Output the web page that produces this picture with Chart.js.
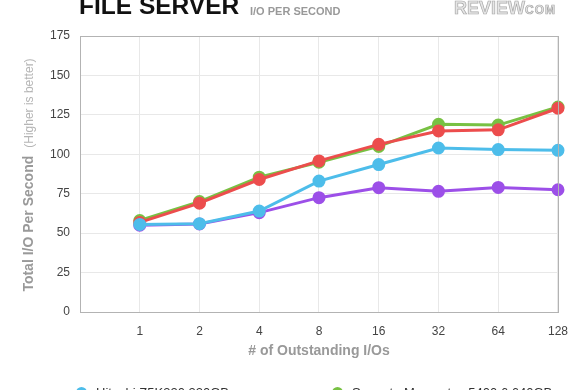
<!DOCTYPE html>
<html>
<head>
<meta charset="utf-8">
<script src="https://cdn.jsdelivr.net/npm/chart.js@4.4.0/dist/chart.umd.min.js"></script>
<style>
  body { margin: 0; width: 580px; height: 390px; overflow: hidden; background: #fff; position: relative;
         font-family: "Liberation Sans", Arial, Helvetica, sans-serif; }
  #chart { position: absolute; left: 0; top: 0; }
  .title { position: absolute; left: 79px; top: -8px; font-size: 24.5px; font-weight: bold; color: #111; line-height: 28px; }
  .subtitle { position: absolute; left: 250px; top: 5px; font-size: 11px; font-weight: bold; color: #999; line-height: 12px; }
  .logo { position: absolute; left: 454px; top: 0px; font-weight: bold; color: #e6e6e6;
          -webkit-text-stroke: 0.7px #a8a8a8; line-height: 17px; white-space: nowrap; }
  .logo .big { font-size: 18px; }
  .logo .small { font-size: 12px; letter-spacing: 1px; }
  .legend { position: absolute; left: 76px; top: 385px; width: 500px; display: grid;
            grid-template-columns: 256px 244px; row-gap: 8px; font-size: 13px; color: #333; }
  .legend span.dot { display: inline-block; width: 11px; height: 11px; border-radius: 50%;
                     vertical-align: -1px; margin-right: 9px; }
</style>
</head>
<body>
<canvas id="chart" width="580" height="390"></canvas>
<div class="title">FILE SERVER</div>
<div class="subtitle">I/O PER SECOND</div>
<div class="logo"><span class="big">REVIEW</span><span class="small">COM</span></div>
<div class="legend" id="legend"></div>

<script>
// Data
const categories = ['', '1', '2', '4', '8', '16', '32', '64', '128'];
const seriesNames = [
    'Hitachi Z5K320 320GB',
    'Seagate Momentus 5400.6 640GB',
    'Western Digital Scorpio Blue 500GB',
    'Toshiba MK5056GSY 500GB'
];
const hitachi = [null, 55.5, 56, 64, 83, 93.5, 104, 103, 102.5];
const seagate = [null, 58, 70, 85.5, 95, 105, 119, 118.5, 130];
const westernDigital = [null, 56.8, 69, 84, 95.8, 106.3, 114.8, 115.5, 129.2];
const toshiba = [null, 55, 55.8, 63, 72.5, 78.8, 76.5, 79, 77.5];
const yTicks = [0, 25, 50, 75, 100, 125, 150, 175];

const colors = ['#4dbdea', '#78c143', '#ec4d4d', '#9c4fe8'];
const seriesData = [hitachi, seagate, westernDigital, toshiba];
// which line sits on top (lower = drawn later)
const drawOrder = [0, 2, 1, 3];

// Legend (mostly below the visible area, like the original)
const legend = document.getElementById('legend');
seriesNames.forEach((name, i) => {
    const div = document.createElement('div');
    div.innerHTML = `<span class="dot" style="background:${colors[i]}"></span>${name}`;
    legend.appendChild(div);
});

// Frame around the plot area
const framePlugin = {
    id: 'frame',
    afterDraw(chart) {
        const { ctx, chartArea: a } = chart;
        ctx.save();
        ctx.strokeStyle = '#b3b3b3';
        ctx.lineWidth = 1;
        ctx.strokeRect(a.left + 0.5, a.top + 0.5, a.right - a.left, a.bottom - a.top);
        ctx.restore();
    }
};

// Two-part rotated y axis title
const yTitlePlugin = {
    id: 'yTitle',
    afterDraw(chart) {
        const { ctx, chartArea: a } = chart;
        const part1 = 'Total I/O Per Second';
        const part2 = '(Higher is better)';
        const f1 = 'bold 14px "Liberation Sans", Arial, sans-serif';
        const f2 = '12px "Liberation Sans", Arial, sans-serif';
        ctx.save();
        ctx.font = f1;
        const w1 = ctx.measureText(part1).width;
        ctx.font = f2;
        const w2 = ctx.measureText(part2).width;
        const gap = 8;
        const total = w1 + gap + w2;
        ctx.translate(33, (a.top + a.bottom) / 2 + 1);
        ctx.rotate(-Math.PI / 2);
        ctx.textBaseline = 'alphabetic';
        ctx.textAlign = 'left';
        ctx.font = f1;
        ctx.fillStyle = '#999';
        ctx.fillText(part1, -total / 2, 0);
        ctx.font = f2;
        ctx.fillStyle = '#b5b5b5';
        ctx.fillText(part2, -total / 2 + w1 + gap, 0);
        ctx.restore();
    }
};

const ctx = document.getElementById('chart').getContext('2d');
const chart = new Chart(ctx, {
    type: 'line',
    data: {
        labels: categories,
        datasets: seriesData.map((data, i) => ({
            label: seriesNames[i],
            data: data,
            borderColor: colors[i],
            backgroundColor: colors[i],
            pointBackgroundColor: colors[i],
            pointBorderColor: colors[i],
            borderWidth: 3,
            pointRadius: 5,
            tension: 0,
            order: drawOrder[i]
        }))
    },
    options: {
        responsive: false,
        animation: false,
        layout: { padding: { top: 36, right: 21, bottom: 30, left: 0 } },
        plugins: {
            legend: { display: false },
            tooltip: { enabled: false }
        },
        scales: {
            x: {
                offset: false,
                grid: { color: '#e8e8e8', drawTicks: false },
                border: { display: false },
                ticks: { color: '#444', font: { size: 12, family: '"Liberation Sans", Arial' }, padding: 12, maxRotation: 0, autoSkip: false },
                title: { display: true, text: '# of Outstanding I/Os', color: '#999',
                         font: { size: 14, weight: 'bold', family: '"Liberation Sans", Arial' }, padding: 0 },
                afterFit(scale) { scale.height = 48; }
            },
            y: {
                min: 0,
                max: 175,
                afterBuildTicks(scale) { scale.ticks = yTicks.map(v => ({ value: v })); },
                grid: { color: '#e8e8e8', drawTicks: false },
                border: { display: false },
                ticks: { color: '#444', font: { size: 12, family: '"Liberation Sans", Arial' }, padding: 10 },
                afterFit(scale) { scale.width = 80; }
            }
        }
    },
    plugins: [framePlugin, yTitlePlugin]
});
</script>
</body>
</html>
